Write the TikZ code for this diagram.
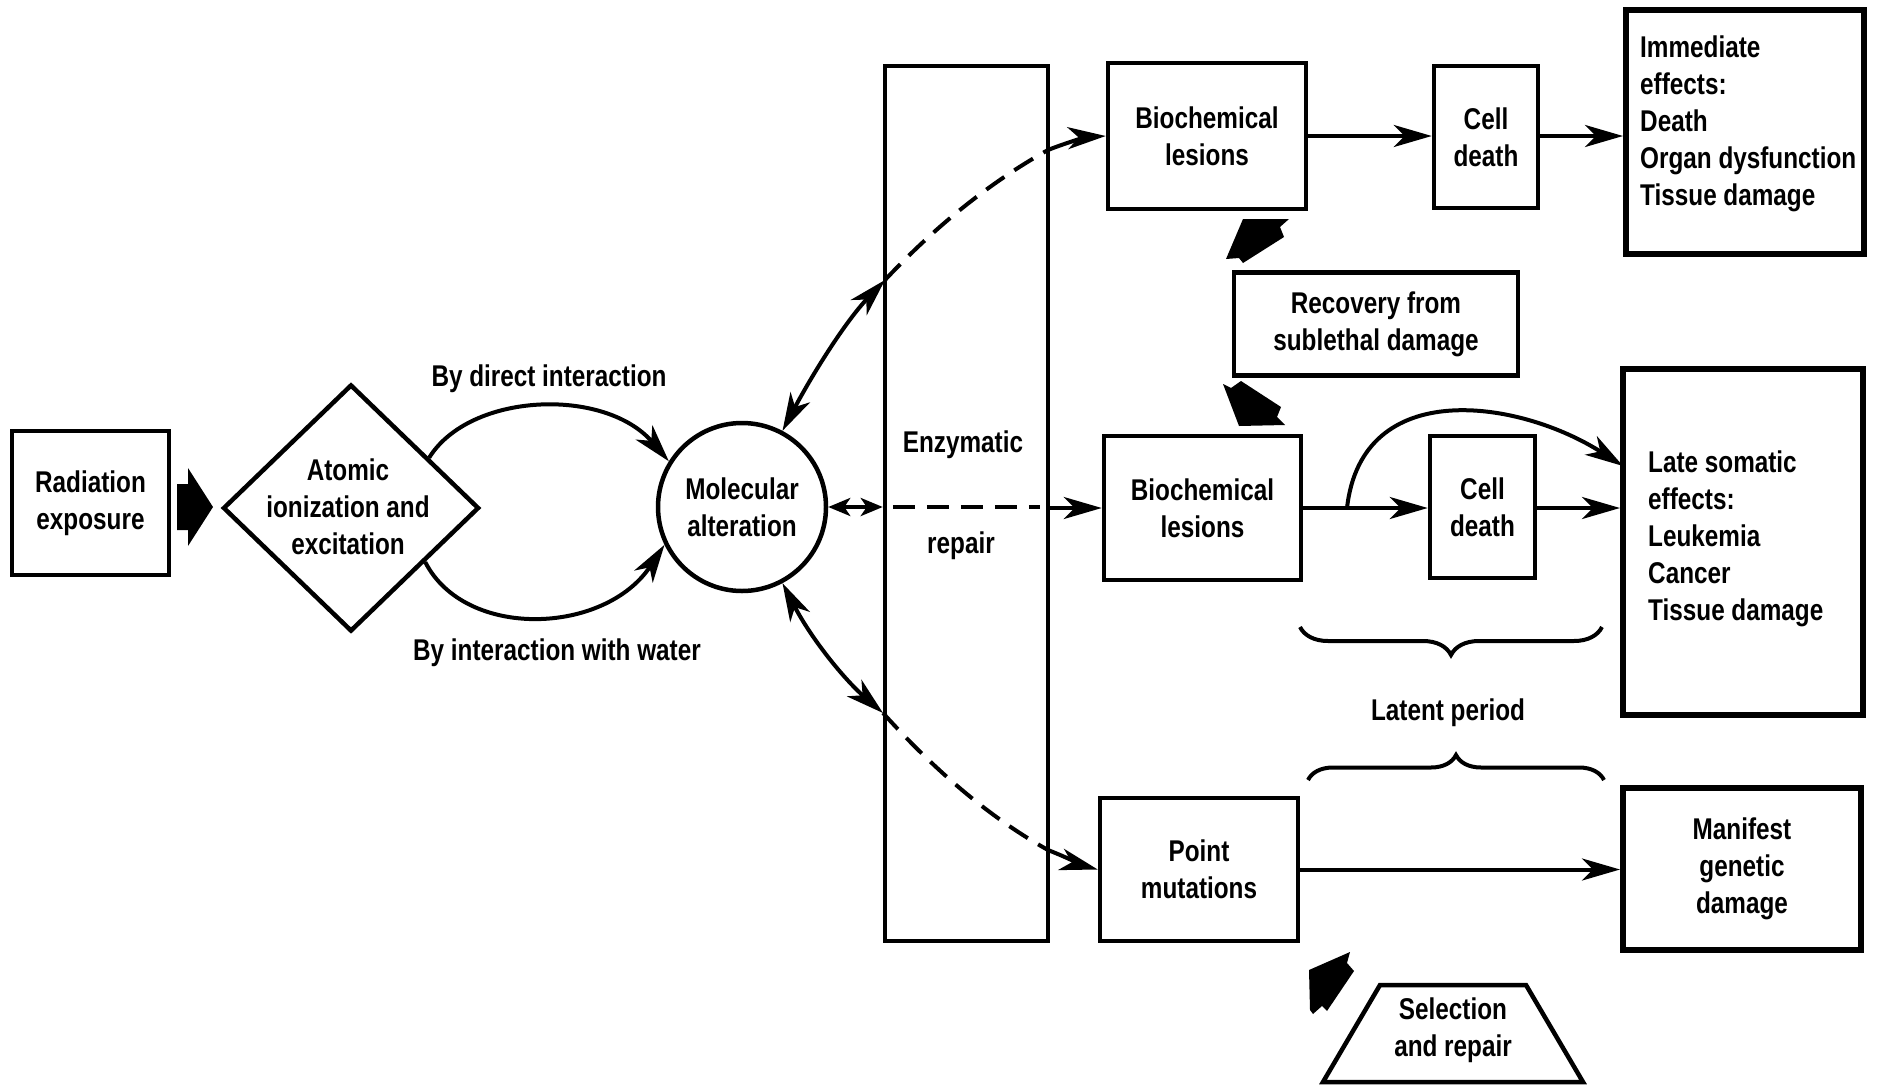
\documentclass[tikz,border=0pt]{standalone}
\usepackage{fontspec}
\setmainfont{Liberation Sans}[FakeStretch=0.81]
\usetikzlibrary{arrows.meta,decorations.pathreplacing,shapes.geometric,calc}
\begin{document}
\begin{tikzpicture}[x=1pt,y=-1pt,
  txt/.style={font=\fontsize{30}{37}\selectfont\bfseries, align=center, inner sep=0pt},
  box/.style={draw, line width=4.5pt, inner sep=0pt, txt},
  heavy/.style={box, line width=6pt},
  tipA/.tip={Stealth[length=38pt,width=22pt,inset=11pt]},
  tipB/.tip={Stealth[length=22pt,width=18pt,inset=6pt]},
  arr/.style={line width=4pt, -tipA},
  darr/.style={line width=4pt, tipA-tipA},
  dsh/.style={line width=4pt, dash pattern=on 22pt off 12pt}]
\useasboundingbox (0,0) rectangle (1877,1087);

% left part
\node[box, minimum width=157, minimum height=144] (rad) at (90.5,503) {Radiation\\exposure};
\fill (177,484) -- (188,484) -- (188,468) -- (213,507) -- (188,546) -- (188,530) -- (177,530) -- cycle;
\node[draw, diamond, line width=4.5pt, minimum width=256, minimum height=247, inner sep=0pt] (dia) at (351,508) {};
\node[txt] (diat) at (348,507) {Atomic\\ionization and\\excitation};
\node[draw, circle, line width=4.5pt, minimum size=168, inner sep=0pt, txt] (circ) at (742,507) {Molecular\\alteration};

\draw[arr] ($(dia.north)!0.6!(dia.east)$) .. controls (470,392) and (605,387) .. (circ.148);
\draw[arr] ($(dia.south)!0.57!(dia.east)$) .. controls (465,640) and (605,635) .. (circ.206);
\node[txt] (lab1) at (549,379) {By direct interaction};
\node[txt] (lab2) at (557,653) {By interaction with water};

% enzymatic repair
\node[box, minimum width=163, minimum height=875] (enz) at (966.5,503.5) {};
\node[txt] (enz1) at (963,445) {Enzymatic};
\node[txt] (enz2) at (961,546) {repair};

% row boxes
\node[box, minimum width=198, minimum height=146] (bl1) at (1207,136) {Biochemical\\lesions};
\node[box, minimum width=104, minimum height=142] (cd1) at (1486,137) {Cell\\death};
\node[heavy, minimum width=238, minimum height=244] (imm) at (1745,132) {};
\node[txt, align=left, anchor=west] (immt) at (1640,124) {Immediate\\effects:\\Death\\Organ dysfunction\\Tissue damage};

\node[box, minimum width=284, minimum height=103] (rec) at (1376,324) {Recovery from\\sublethal damage};

\node[box, minimum width=197, minimum height=144] (bl2) at (1202.5,508) {Biochemical\\lesions};
\node[box, minimum width=105, minimum height=142] (cd2) at (1482.5,507) {Cell\\death};
\node[heavy, minimum width=240, minimum height=346] (late) at (1743,542) {};
\node[txt, align=left, anchor=west] (latet) at (1648,539) {Late somatic\\effects:\\Leukemia\\Cancer\\Tissue damage};

\node[box, minimum width=198, minimum height=143] (pm) at (1199,869.5) {Point\\mutations};
\node[heavy, minimum width=238, minimum height=162] (man) at (1742,869) {Manifest\\genetic\\damage};

\draw[line width=4.5pt] (1323,1082) -- (1380,985) -- (1526,985) -- (1583,1082) -- cycle;
\node[txt] (sel) at (1453,1030) {Selection\\and repair};

% black block arrows
\fill (1226,259) -- (1243,219) -- (1289,219) -- (1280,227) -- (1284,237) -- (1243,263) -- (1239,258) -- cycle;
\fill (1223,384) -- (1231,388) -- (1241,381) -- (1281,407) -- (1277,417) -- (1285,425) -- (1239,426) -- cycle;
\fill (1309,970) -- (1350,952) -- (1347,963) -- (1354,971) -- (1327,1011) -- (1322,1006) -- (1313,1014) -- (1310,1010) -- cycle;

% middle connection
\draw[line width=4pt, tipB-tipB] (circ.east) -- (enz.west |- circ.east);
\draw[dsh, shorten <=10pt, shorten >=10pt] (enz.west |- circ.east) -- (enz.east |- circ.east);
\draw[arr] (enz.east |- bl2.west) -- (bl2.west);

% upper arc
\coordinate (u1) at (885,280);
\coordinate (u2) at (1048,150);
\draw[darr] (circ.62) .. controls (812,375) and (845,322) .. (u1);
\draw[dsh] (u1) .. controls (930,232) and (985,185) .. (u2);
\draw[arr] (u2) .. controls (1068,142) and (1088,137) .. (bl1.west);

% lower arc
\coordinate (l1) at (883,713);
\coordinate (l2) at (1048,850);
\draw[darr] (circ.-62) .. controls (812,640) and (845,680) .. (l1);
\draw[dsh] (l1) .. controls (930,765) and (985,815) .. (l2);
\draw[arr] (l2) .. controls (1068,858) and (1085,866) .. (pm.west);

% row arrows
\draw[arr] (bl1.east) -- (cd1.west |- bl1.east);
\draw[arr] (cd1.east |- bl1.east) -- (imm.west |- bl1.east);
\draw[arr] (bl2.east) -- (cd2.west |- bl2.east);
\draw[arr] (cd2.east |- bl2.east) -- (late.west |- bl2.east);
\coordinate (c1) at (1347,508);
\coordinate (c2) at (1623,466);
\draw[arr] (c1) .. controls (1362,375) and (1520,400) .. (c2);
\draw[arr] (pm.east) -- (man.west |- pm.east);

% braces
\draw[line width=4pt, decorate, decoration={brace, amplitude=28pt}] (1602,627) -- (1300,627);
\draw[line width=4pt, decorate, decoration={brace, amplitude=25pt}] (1308,780) -- (1604,780);
\node[txt] (lat) at (1448,713) {Latent period};
\end{tikzpicture}
\end{document}
